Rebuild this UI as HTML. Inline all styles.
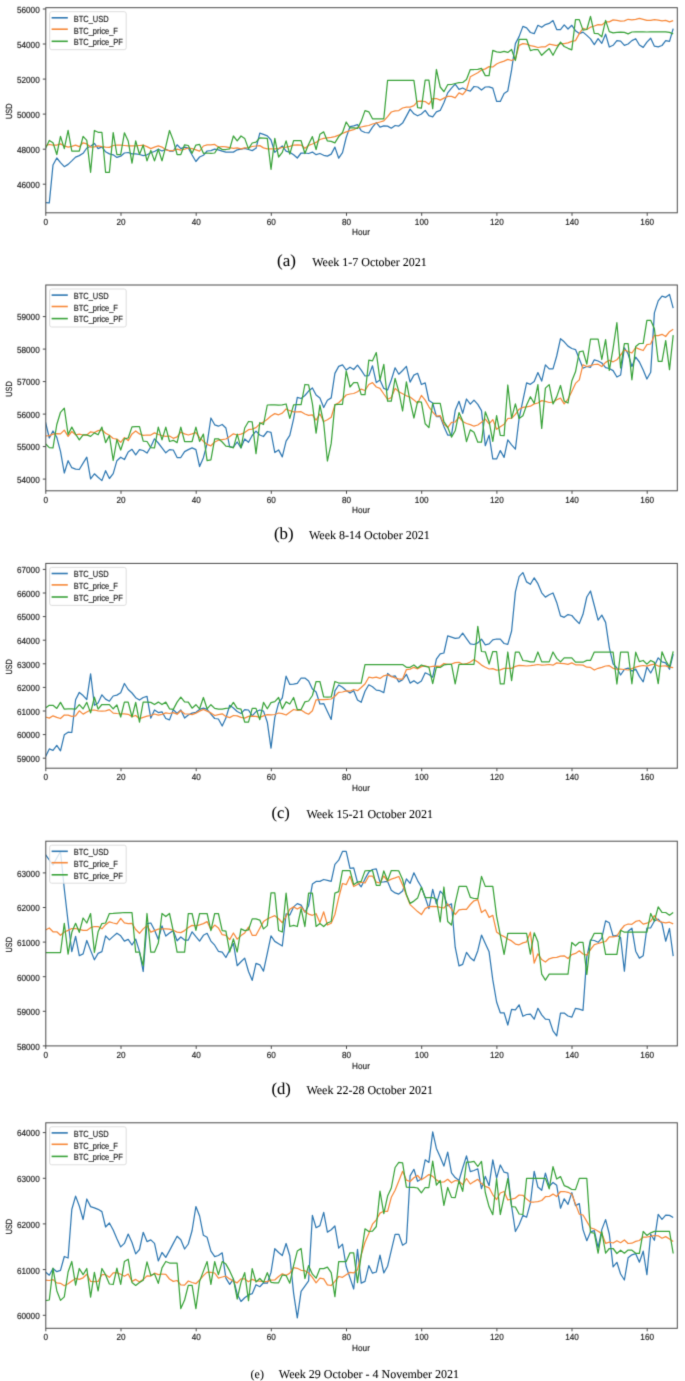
<!DOCTYPE html>
<html><head><meta charset="utf-8"><style>
html,body{margin:0;padding:0;background:#fff;}
body{width:685px;height:1381px;overflow:hidden;}
svg{display:block;}
text{font-size:100px;text-rendering:geometricPrecision;}
.tk,.lg{font-family:"Liberation Sans",sans-serif;fill:#1c1c1c;stroke:#1c1c1c;}
.cap,.capl{font-family:"Liberation Serif",serif;fill:#000;stroke:#000;}
</style></head><body>
<svg width="685" height="1381" viewBox="0 0 685 1381">
<defs><filter id="soft" x="0" y="0" width="685" height="1381" filterUnits="userSpaceOnUse" color-interpolation-filters="sRGB"><feConvolveMatrix order="3" kernelMatrix="1 6 1 6 36 6 1 6 1" edgeMode="duplicate"/></filter></defs>
<g filter="url(#soft)">
<rect width="685" height="1381" fill="#fff"/>
<clipPath id="clipa"><rect x="45.8" y="7.7" width="631.5" height="205.10000000000002"/></clipPath>
<g clip-path="url(#clipa)">
<polyline points="45.5,202.7 49.3,202.9 53,165 56.8,158 60.5,162.6 64.3,166.7 68.1,164.4 71.8,160.9 75.6,157.1 79.3,155.6 83.1,153.3 86.8,148 90.6,146.3 94.4,143.4 98.1,148.6 101.9,146.9 105.6,151.8 109.4,153.9 113.2,154.8 116.9,157.4 120.7,156.2 124.4,153 128.2,152.5 132,153.9 135.7,153.9 139.5,154.5 143.2,155.6 147,154.8 150.8,152.7 154.5,151.5 158.3,149.2 162,151 165.8,149.2 169.5,151 173.3,151 177.1,144.8 180.8,148.6 184.6,147.1 188.3,148 192.1,155 195.9,161.5 199.6,157 203.4,155.3 207.1,151 210.9,150.6 214.7,149.1 218.4,149.8 222.2,151.2 225.9,152.1 229.7,152.1 233.4,152.1 237.2,149.8 241,149.1 244.7,148.3 248.5,149.5 252.2,150.6 256,148.3 259.8,133.1 263.5,134.3 267.3,135.8 271,140 274.8,152.4 278.6,148.9 282.3,146 286.1,151.2 289.8,152.4 293.6,154.7 297.3,158 301.1,153 304.9,153 308.6,153.5 312.4,152.1 316.1,154.7 319.9,153.5 323.7,155.3 327.4,156.1 331.2,154.1 334.9,147.1 338.7,158.2 342.5,152.6 346.2,137.5 350,126.6 353.7,125.8 357.5,124.7 361.2,130.7 365,132.5 368.8,132.8 372.5,127.2 376.3,122.6 380,127.2 383.8,125.8 387.6,126.1 391.3,128.2 395.1,125.5 398.8,126.1 402.6,123.1 406.4,116.1 410.1,109.1 413.9,113.8 417.6,115.8 421.4,114 425.2,110.4 428.9,115.7 432.7,116.8 436.4,111.8 440.2,110.4 443.9,102.8 447.7,92.9 451.5,88.2 455.2,84.1 459,89.4 462.7,88 466.5,90 470.3,91.1 474,86.5 477.8,87 481.5,90 485.3,87 489.1,86.8 492.8,88.2 496.6,101.4 500.3,101.4 504.1,93.5 507.8,90.9 511.6,69.9 515.4,43.6 519.1,36.6 522.9,26.4 526.6,27.8 530.4,32.5 534.2,33.7 537.9,25.3 541.7,27.3 545.4,24.6 549.2,23.4 553,20.6 556.7,29.6 560.5,29.6 564.2,24.9 568,29 571.8,25.3 575.5,30.7 579.3,33.6 583,32.1 586.8,35.4 590.5,38.9 594.3,44.7 598.1,38.6 601.8,43.3 605.6,34.2 609.3,47 613.1,45.3 616.9,40.6 620.6,41.1 624.4,45.3 628.1,44 631.9,40.6 635.7,38.7 639.4,45 643.2,47.4 646.9,42.1 650.7,38.2 654.4,46.2 658.2,46.9 662,45.5 665.7,40.6 669.5,41.4 673.2,28.6" fill="none" stroke="#2f78b2" stroke-width="1.25" stroke-linejoin="round" stroke-linecap="butt"/>
<polyline points="45.5,145.7 49.3,144.5 53,145.1 56.8,145.1 60.5,143.9 64.3,145.9 68.1,147.1 71.8,146.3 75.6,145.1 79.3,146.6 83.1,142.8 86.8,143.9 90.6,147.1 94.4,146.9 98.1,145.9 101.9,146.6 105.6,147.1 109.4,147.4 113.2,145.5 116.9,145.1 120.7,145.1 124.4,145.5 128.2,145.9 132,145.9 135.7,145.9 139.5,145.5 143.2,145.1 147,146.6 150.8,148.6 154.5,147.1 158.3,145.9 162,147.1 165.8,149.8 169.5,150.6 173.3,150.6 177.1,149.2 180.8,150.1 184.6,149.2 188.3,148 192.1,148.6 195.9,149.8 199.6,151.2 203.4,146 207.1,144.8 210.9,144.8 214.7,144.4 218.4,147.1 222.2,146.5 225.9,146.8 229.7,147.7 233.4,148.3 237.2,147.9 241,148.9 244.7,147.9 248.5,147.7 252.2,146.5 256,146 259.8,145.6 263.5,147.9 267.3,148.9 271,148.9 274.8,148.9 278.6,148.3 282.3,147.5 286.1,147.1 289.8,146.3 293.6,145.1 297.3,144.8 301.1,145.1 304.9,148.3 308.6,145.4 312.4,144 316.1,142.4 319.9,139.5 323.7,138.4 327.4,137.8 331.2,137.4 334.9,136.6 338.7,135.1 342.5,133.5 346.2,131.9 350,130.7 353.7,129.6 357.5,127.8 361.2,127 365,126.1 368.8,125.5 372.5,124 376.3,123.1 380,122 383.8,120.8 387.6,116.7 391.3,112 395.1,110.9 398.8,110.6 402.6,108 406.4,107.1 410.1,107.1 413.9,105.6 417.6,101.3 421.4,101.1 425.2,101.6 428.9,104.3 432.7,98.5 436.4,98.5 440.2,100.1 443.9,98.1 447.7,96.4 451.5,96.4 455.2,97.8 459,92.9 462.7,94.6 466.5,90 470.3,76.8 474,74.8 477.8,72.8 481.5,70.1 485.3,68.9 489.1,66.6 492.8,67 496.6,64 500.3,62.3 504.1,61.1 507.8,59.4 511.6,60.5 515.4,58.8 519.1,45.4 522.9,43.6 526.6,44.2 530.4,45.6 534.2,46.3 537.9,47.5 541.7,46.8 545.4,46.8 549.2,44.2 553,44.8 556.7,45.6 560.5,43.6 564.2,43.6 568,42.8 571.8,41.3 575.5,40.6 579.3,33.6 583,28.4 586.8,29.5 590.5,27.2 594.3,26 598.1,24.6 601.8,24.9 605.6,21.9 609.3,21.9 613.1,19.9 616.9,20.4 620.6,21.1 624.4,20.9 628.1,19.3 631.9,19.9 635.7,19.3 639.4,18.3 643.2,19.3 646.9,20.4 650.7,20.4 654.4,19.6 658.2,20.2 662,20.9 665.7,20.4 669.5,21.9 673.2,20.6" fill="none" stroke="#f7893a" stroke-width="1.25" stroke-linejoin="round" stroke-linecap="butt"/>
<polyline points="45.5,148.6 49.3,140.4 53,142.8 56.8,154.5 60.5,136.4 64.3,148.6 68.1,130.3 71.8,151 75.6,151 79.3,151 83.1,136.4 86.8,140.4 90.6,172.3 94.4,130.5 98.1,132.3 101.9,132.3 105.6,172.3 109.4,172.3 113.2,132.6 116.9,154.5 120.7,154.5 124.4,132.8 128.2,141 132,163.2 135.7,140.8 139.5,154.5 143.2,145.1 147,160.9 150.8,150.4 154.5,160.9 158.3,149.2 162,160.9 165.8,146.3 169.5,130.5 173.3,140.4 177.1,154.5 180.8,154.5 184.6,144.8 188.3,145.5 192.1,153.3 195.9,145.1 199.6,144.4 203.4,153.3 207.1,153 210.9,153.3 214.7,153 218.4,147.1 222.2,149.5 225.9,149.5 229.7,148.9 233.4,136 237.2,140.9 241,136 244.7,138.4 248.5,148.9 252.2,143 256,142.1 259.8,137.8 263.5,138.1 267.3,138.4 271,169.3 274.8,138.4 278.6,157 282.3,152.4 286.1,140.9 289.8,154.1 293.6,140.7 297.3,140.7 301.1,140.7 304.9,153.5 308.6,144.2 312.4,136.6 316.1,149.5 319.9,134.3 323.7,131.9 327.4,140.9 331.2,141.3 334.9,142.8 338.7,136.6 342.5,132.5 346.2,122 350,127.8 353.7,127.8 357.5,128.4 361.2,121.4 365,110.6 368.8,111.8 372.5,118.8 376.3,118.8 380,118.8 383.8,118.8 387.6,80.3 391.3,80.3 395.1,80.3 398.8,80.3 402.6,80.3 406.4,80.3 410.1,80.3 413.9,80.3 417.6,107.6 421.4,108.1 425.2,80 428.9,80 432.7,108.6 436.4,69.5 440.2,87 443.9,91.7 447.7,84.7 451.5,84.5 455.2,83.5 459,82.6 462.7,82.4 466.5,79.5 470.3,69.5 474,69.5 477.8,69.3 481.5,68.4 485.3,75.6 489.1,75.6 492.8,50.3 496.6,51.8 500.3,52.4 504.1,51.4 507.8,52.4 511.6,49.5 515.4,60.5 519.1,39.3 522.9,39.3 526.6,39.3 530.4,50.6 534.2,49.5 537.9,49.5 541.7,55.3 545.4,51.8 549.2,48.6 553,55.3 556.7,48.3 560.5,42.1 564.2,46.5 568,48.3 571.8,49.8 575.5,19.6 579.3,19.6 583,30.1 586.8,29.5 590.5,16.4 594.3,33.3 598.1,33.6 601.8,36.8 605.6,20.4 609.3,31.6 613.1,32.8 616.9,32.4 620.6,32.2 624.4,32.4 628.1,33.9 631.9,32 635.7,31.8 639.4,31.8 643.2,31.8 646.9,32 650.7,31.8 654.4,31.8 658.2,31.8 662,31.8 665.7,31.8 669.5,32.4 673.2,33.9" fill="none" stroke="#3aa33a" stroke-width="1.25" stroke-linejoin="round" stroke-linecap="butt"/>
</g>
<rect x="49.7" y="11.7" width="76.5" height="38" rx="2" ry="2" fill="#fff" fill-opacity="0.8" stroke="#d9d9d9" stroke-width="0.9"/>
<line x1="51.6" y1="17.8" x2="67.8" y2="17.8" stroke="#2f78b2" stroke-width="1.6"/>
<text transform="translate(73.7 21.7) scale(0.0750 0.0885)" class="lg" text-anchor="start" style="stroke-width:2.00px">BTC_USD</text>
<line x1="51.6" y1="29.2" x2="67.8" y2="29.2" stroke="#f7893a" stroke-width="1.6"/>
<text transform="translate(73.7 33.7) scale(0.0750 0.0885)" class="lg" text-anchor="start" style="stroke-width:2.00px">BTC_price_F</text>
<line x1="51.6" y1="41.3" x2="67.8" y2="41.3" stroke="#3aa33a" stroke-width="1.6"/>
<text transform="translate(73.7 45.1) scale(0.0750 0.0885)" class="lg" text-anchor="start" style="stroke-width:2.00px">BTC_price_PF</text>
<rect x="45.8" y="7.7" width="631.5" height="205.1" fill="none" stroke="#4a4a4a" stroke-width="1.0"/>
<line x1="45.8" y1="212.8" x2="45.8" y2="215.8" stroke="#4a4a4a" stroke-width="1"/>
<text transform="translate(45.8 224.9) scale(0.0820 0.0877)" class="tk" text-anchor="middle" style="stroke-width:1.83px">0</text>
<line x1="121" y1="212.8" x2="121" y2="215.8" stroke="#4a4a4a" stroke-width="1"/>
<text transform="translate(121 224.9) scale(0.0820 0.0877)" class="tk" text-anchor="middle" style="stroke-width:1.83px">20</text>
<line x1="196.2" y1="212.8" x2="196.2" y2="215.8" stroke="#4a4a4a" stroke-width="1"/>
<text transform="translate(196.2 224.9) scale(0.0820 0.0877)" class="tk" text-anchor="middle" style="stroke-width:1.83px">40</text>
<line x1="271.3" y1="212.8" x2="271.3" y2="215.8" stroke="#4a4a4a" stroke-width="1"/>
<text transform="translate(271.3 224.9) scale(0.0820 0.0877)" class="tk" text-anchor="middle" style="stroke-width:1.83px">60</text>
<line x1="346.5" y1="212.8" x2="346.5" y2="215.8" stroke="#4a4a4a" stroke-width="1"/>
<text transform="translate(346.5 224.9) scale(0.0820 0.0877)" class="tk" text-anchor="middle" style="stroke-width:1.83px">80</text>
<line x1="421.7" y1="212.8" x2="421.7" y2="215.8" stroke="#4a4a4a" stroke-width="1"/>
<text transform="translate(421.7 224.9) scale(0.0820 0.0877)" class="tk" text-anchor="middle" style="stroke-width:1.83px">100</text>
<line x1="496.9" y1="212.8" x2="496.9" y2="215.8" stroke="#4a4a4a" stroke-width="1"/>
<text transform="translate(496.9 224.9) scale(0.0820 0.0877)" class="tk" text-anchor="middle" style="stroke-width:1.83px">120</text>
<line x1="572" y1="212.8" x2="572" y2="215.8" stroke="#4a4a4a" stroke-width="1"/>
<text transform="translate(572 224.9) scale(0.0820 0.0877)" class="tk" text-anchor="middle" style="stroke-width:1.83px">140</text>
<line x1="647.2" y1="212.8" x2="647.2" y2="215.8" stroke="#4a4a4a" stroke-width="1"/>
<text transform="translate(647.2 224.9) scale(0.0820 0.0877)" class="tk" text-anchor="middle" style="stroke-width:1.83px">160</text>
<text transform="translate(361 235.4) scale(0.0820 0.0877)" class="tk" text-anchor="middle" style="stroke-width:1.83px">Hour</text>
<line x1="42.8" y1="184.2" x2="45.8" y2="184.2" stroke="#4a4a4a" stroke-width="1"/>
<text transform="translate(39.7 188) scale(0.0820 0.0877)" class="tk" text-anchor="end" style="stroke-width:1.83px">46000</text>
<line x1="42.8" y1="149.2" x2="45.8" y2="149.2" stroke="#4a4a4a" stroke-width="1"/>
<text transform="translate(39.7 153) scale(0.0820 0.0877)" class="tk" text-anchor="end" style="stroke-width:1.83px">48000</text>
<line x1="42.8" y1="114.1" x2="45.8" y2="114.1" stroke="#4a4a4a" stroke-width="1"/>
<text transform="translate(39.7 118) scale(0.0820 0.0877)" class="tk" text-anchor="end" style="stroke-width:1.83px">50000</text>
<line x1="42.8" y1="79.1" x2="45.8" y2="79.1" stroke="#4a4a4a" stroke-width="1"/>
<text transform="translate(39.7 82.9) scale(0.0820 0.0877)" class="tk" text-anchor="end" style="stroke-width:1.83px">52000</text>
<line x1="42.8" y1="44" x2="45.8" y2="44" stroke="#4a4a4a" stroke-width="1"/>
<text transform="translate(39.7 47.9) scale(0.0820 0.0877)" class="tk" text-anchor="end" style="stroke-width:1.83px">54000</text>
<line x1="42.8" y1="9" x2="45.8" y2="9" stroke="#4a4a4a" stroke-width="1"/>
<text transform="translate(39.7 12.8) scale(0.0820 0.0877)" class="tk" text-anchor="end" style="stroke-width:1.83px">56000</text>
<g transform="translate(11.6 111.3) rotate(-90)"><text transform="translate(0 0) scale(0.0730 0.0891)" class="tk" text-anchor="middle" style="stroke-width:2.05px">USD</text></g>
<text transform="translate(277 265.6) scale(0.1700 0.1700)" class="capl" text-anchor="start" style="stroke-width:0.35px">(a)</text>
<text transform="translate(312.2 265.6) scale(0.1200 0.1200)" class="cap" text-anchor="start" style="stroke-width:0.50px">Week 1-7 October 2021</text>
<clipPath id="clipb"><rect x="45.8" y="285" width="631.5" height="205.8"/></clipPath>
<g clip-path="url(#clipb)">
<polyline points="45.5,422.2 49.3,438 53,431 56.8,437.4 60.5,451.4 64.3,473 68.1,460.7 71.8,467.7 75.6,469.1 79.3,469.5 83.1,463.1 86.8,457.2 90.6,478.8 94.4,473.8 98.1,477.3 101.9,480.6 105.6,470.7 109.4,478.5 113.2,473.6 116.9,460.7 120.7,457.2 124.4,459.6 128.2,452 132,449.3 135.7,454.9 139.5,449.6 143.2,450.5 147,453.1 150.8,446.7 154.5,438.8 158.3,443 162,447.9 165.8,452.8 169.5,449.6 173.3,450 177.1,457.5 180.8,457.5 184.6,451.6 188.3,449.6 192.1,447.9 195.9,449.6 199.6,466.5 203.4,457.7 207.1,443.7 210.9,418 214.7,424.8 218.4,426.2 222.2,424.5 225.9,428 229.7,447 233.4,447.2 237.2,442 241,447.8 244.7,439 248.5,442.3 252.2,435.5 256,431.1 259.8,435 263.5,436.5 267.3,431.5 271,432.3 274.8,452.5 278.6,449.9 282.3,456.9 286.1,441.1 289.8,435.3 293.6,418.9 297.3,397.3 301.1,398.5 304.9,395.5 308.6,391.1 312.4,388 316.1,395 319.9,397.9 323.7,407.5 327.4,400.2 331.2,397.9 334.9,373.4 338.7,366.4 342.5,364.9 346.2,370 350,367.2 353.7,369.5 357.5,365.1 361.2,370.1 365,376 368.8,375.6 372.5,365.8 376.3,382.6 380,380 383.8,388.4 387.6,390 391.3,380 395.1,367.8 398.8,374.2 402.6,370.5 406.4,366.3 410.1,382.1 413.9,375.1 417.6,373.3 421.4,384.5 425.2,382.9 428.9,400.5 432.7,403 436.4,416.5 440.2,416.5 443.9,426.4 447.7,435.1 451.5,435.1 455.2,410.6 459,401.3 462.7,413.3 466.5,399 470.3,404.2 474,400.1 477.8,404.4 481.5,410.6 485.3,445.7 489.1,435.1 492.8,458.9 496.6,458.9 500.3,450.6 504.1,457.4 507.8,439.9 511.6,444.8 515.4,449.2 519.1,418.5 522.9,400.4 526.6,382.9 530.4,384.3 534.2,381.5 537.9,372.6 541.7,381.1 545.4,364.8 549.2,368.9 553,368.9 556.7,356 560.5,338.7 564.2,341.8 568,346.1 571.8,348.5 575.5,349.6 579.3,358.9 583,368.2 586.8,366.5 590.5,367.3 594.3,359.8 598.1,361 601.8,363 605.6,367.7 609.3,368.5 613.1,370.6 616.9,377 620.6,375 624.4,347.8 628.1,354 631.9,366.5 635.7,357.2 639.4,362 643.2,370 646.9,379 650.7,372.2 654.4,312.9 658.2,300.9 662,296.1 665.7,297.3 669.5,294.4 673.2,308.1" fill="none" stroke="#2f78b2" stroke-width="1.25" stroke-linejoin="round" stroke-linecap="butt"/>
<polyline points="45.5,436 49.3,435.6 53,434.1 56.8,433.6 60.5,433.9 64.3,430.1 68.1,436.4 71.8,431.5 75.6,434.8 79.3,434.1 83.1,435 86.8,435 90.6,431.8 94.4,432.5 98.1,430.6 101.9,429.8 105.6,433.3 109.4,435.3 113.2,438.5 116.9,439.1 120.7,442.3 124.4,437.6 128.2,440.6 132,433.9 135.7,430.9 139.5,433.9 143.2,435.3 147,435 150.8,435 154.5,432.9 158.3,434.5 162,435.6 165.8,436.4 169.5,436 173.3,438.3 177.1,436.8 180.8,432.1 184.6,433.9 188.3,435 192.1,433.9 195.9,432.7 199.6,437.6 203.4,441.4 207.1,444.3 210.9,445.8 214.7,442 218.4,440.2 222.2,439.6 225.9,439 229.7,436.5 233.4,433.8 237.2,435 241,434.1 244.7,432.6 248.5,429.7 252.2,429.1 256,427.6 259.8,423.9 263.5,422.1 267.3,419.2 271,416 274.8,413.6 278.6,414.8 282.3,413.1 286.1,409 289.8,410.7 293.6,411.9 297.3,411.9 301.1,411.7 304.9,414 308.6,415.4 312.4,414.8 316.1,420.1 319.9,414 323.7,421.5 327.4,419.8 331.2,417.2 334.9,404.9 338.7,402.8 342.5,399 346.2,395 350,394 353.7,393.5 357.5,391.7 361.2,389.1 365,390.5 368.8,384.5 372.5,382.6 376.3,387 380,388.4 383.8,394 387.6,399.3 391.3,397.6 395.1,388.4 398.8,391.7 402.6,393.8 406.4,395.8 410.1,397 413.9,399.9 417.6,403.2 421.4,395.4 425.2,400.1 428.9,406.8 432.7,412.1 436.4,416.1 440.2,415.6 443.9,424.1 447.7,427.6 451.5,422.3 455.2,422 459,417 462.7,421.5 466.5,423.5 470.3,424.6 474,426.2 477.8,425 481.5,422.3 485.3,419.1 489.1,423.8 492.8,419.6 496.6,429.3 500.3,426.7 504.1,424.3 507.8,418.5 511.6,418.2 515.4,414.4 519.1,409.2 522.9,407.4 526.6,406.8 530.4,406.2 534.2,403.9 537.9,403 541.7,400.6 545.4,401.3 549.2,402.5 553,402.2 556.7,399.8 560.5,398.1 564.2,403.9 568,399.2 571.8,391.5 575.5,383.4 579.3,379.9 583,364.7 586.8,366.5 590.5,365.7 594.3,364.5 598.1,364.2 601.8,366.5 605.6,362.4 609.3,360.3 613.1,361.8 616.9,359.8 620.6,355 624.4,350 628.1,351.5 631.9,353 635.7,347.7 639.4,349.2 643.2,350.5 646.9,344.7 650.7,344 654.4,335.3 658.2,335.6 662,334.3 665.7,336.5 669.5,331.7 673.2,329.3" fill="none" stroke="#f7893a" stroke-width="1.25" stroke-linejoin="round" stroke-linecap="butt"/>
<polyline points="45.5,443.8 49.3,447.6 53,447.9 56.8,424.5 60.5,412.3 64.3,408.2 68.1,434.5 71.8,427.1 75.6,434.1 79.3,439.9 83.1,434.8 86.8,434.8 90.6,436.4 94.4,432.9 98.1,434.8 101.9,427.1 105.6,442.6 109.4,435.6 113.2,460.5 116.9,439.5 120.7,450 124.4,438.8 128.2,438 132,426.9 135.7,426.6 139.5,426.6 143.2,441.1 147,441.5 150.8,447.6 154.5,447.9 158.3,427.1 162,439.9 165.8,427.1 169.5,441.5 173.3,440.3 177.1,442.6 180.8,427.1 184.6,441.5 188.3,441.5 192.1,441.5 195.9,427.1 199.6,441.4 203.4,434.1 207.1,460.7 210.9,459.8 214.7,438.8 218.4,438.8 222.2,442 225.9,446.1 229.7,446.6 233.4,447.8 237.2,434.1 241,447.8 244.7,428 248.5,421.5 252.2,421.8 256,453.6 259.8,422.7 263.5,424.5 267.3,405 271,404.9 274.8,404.9 278.6,405.1 282.3,404.9 286.1,404 289.8,418.3 293.6,404.9 297.3,404.7 301.1,404.7 304.9,384.5 308.6,384.8 312.4,403.7 316.1,433.2 319.9,405.1 323.7,423 327.4,461 331.2,443.4 334.9,404.7 338.7,404.3 342.5,404.3 346.2,371 350,387 353.7,382.6 357.5,382.6 361.2,394.6 365,394.6 368.8,360.2 372.5,360.8 376.3,352.6 380,380 383.8,364.3 387.6,401.1 391.3,401.1 395.1,378.3 398.8,391.7 402.6,411 406.4,381.8 410.1,401.1 413.9,418 417.6,401.6 421.4,402.2 425.2,423.8 428.9,427.6 432.7,403.3 436.4,403.3 440.2,403.3 443.9,421.7 447.7,427.3 451.5,437.1 455.2,430.8 459,412.6 462.7,421.1 466.5,441.6 470.3,429.9 474,432.2 477.8,442.2 481.5,442.2 485.3,411.8 489.1,421.7 492.8,441.3 496.6,415.6 500.3,435.4 504.1,435.7 507.8,385 511.6,418.2 515.4,403.9 519.1,418.5 522.9,415.8 526.6,405.1 530.4,396.7 534.2,403.3 537.9,384.6 541.7,428.4 545.4,388.1 549.2,384.6 553,403.9 556.7,396.9 560.5,385.5 564.2,401 568,403 571.8,381.1 575.5,371.8 579.3,351.9 583,351 586.8,364.2 590.5,339 594.3,339 598.1,339 601.8,359.5 605.6,339.6 609.3,370.4 613.1,348.4 616.9,322.7 620.6,368 624.4,343.6 628.1,343.6 631.9,379.8 635.7,346.4 639.4,343.5 643.2,343.4 646.9,320.3 650.7,320.3 654.4,328.8 658.2,361.3 662,361.3 665.7,340.7 669.5,369.6 673.2,335.1" fill="none" stroke="#3aa33a" stroke-width="1.25" stroke-linejoin="round" stroke-linecap="butt"/>
</g>
<rect x="49.7" y="289" width="76.5" height="38" rx="2" ry="2" fill="#fff" fill-opacity="0.8" stroke="#d9d9d9" stroke-width="0.9"/>
<line x1="51.6" y1="295.1" x2="67.8" y2="295.1" stroke="#2f78b2" stroke-width="1.6"/>
<text transform="translate(73.7 299) scale(0.0750 0.0885)" class="lg" text-anchor="start" style="stroke-width:2.00px">BTC_USD</text>
<line x1="51.6" y1="306.5" x2="67.8" y2="306.5" stroke="#f7893a" stroke-width="1.6"/>
<text transform="translate(73.7 311) scale(0.0750 0.0885)" class="lg" text-anchor="start" style="stroke-width:2.00px">BTC_price_F</text>
<line x1="51.6" y1="318.6" x2="67.8" y2="318.6" stroke="#3aa33a" stroke-width="1.6"/>
<text transform="translate(73.7 322.4) scale(0.0750 0.0885)" class="lg" text-anchor="start" style="stroke-width:2.00px">BTC_price_PF</text>
<rect x="45.8" y="285" width="631.5" height="205.8" fill="none" stroke="#4a4a4a" stroke-width="1.0"/>
<line x1="45.8" y1="490.8" x2="45.8" y2="493.8" stroke="#4a4a4a" stroke-width="1"/>
<text transform="translate(45.8 502.9) scale(0.0820 0.0877)" class="tk" text-anchor="middle" style="stroke-width:1.83px">0</text>
<line x1="121" y1="490.8" x2="121" y2="493.8" stroke="#4a4a4a" stroke-width="1"/>
<text transform="translate(121 502.9) scale(0.0820 0.0877)" class="tk" text-anchor="middle" style="stroke-width:1.83px">20</text>
<line x1="196.2" y1="490.8" x2="196.2" y2="493.8" stroke="#4a4a4a" stroke-width="1"/>
<text transform="translate(196.2 502.9) scale(0.0820 0.0877)" class="tk" text-anchor="middle" style="stroke-width:1.83px">40</text>
<line x1="271.3" y1="490.8" x2="271.3" y2="493.8" stroke="#4a4a4a" stroke-width="1"/>
<text transform="translate(271.3 502.9) scale(0.0820 0.0877)" class="tk" text-anchor="middle" style="stroke-width:1.83px">60</text>
<line x1="346.5" y1="490.8" x2="346.5" y2="493.8" stroke="#4a4a4a" stroke-width="1"/>
<text transform="translate(346.5 502.9) scale(0.0820 0.0877)" class="tk" text-anchor="middle" style="stroke-width:1.83px">80</text>
<line x1="421.7" y1="490.8" x2="421.7" y2="493.8" stroke="#4a4a4a" stroke-width="1"/>
<text transform="translate(421.7 502.9) scale(0.0820 0.0877)" class="tk" text-anchor="middle" style="stroke-width:1.83px">100</text>
<line x1="496.9" y1="490.8" x2="496.9" y2="493.8" stroke="#4a4a4a" stroke-width="1"/>
<text transform="translate(496.9 502.9) scale(0.0820 0.0877)" class="tk" text-anchor="middle" style="stroke-width:1.83px">120</text>
<line x1="572" y1="490.8" x2="572" y2="493.8" stroke="#4a4a4a" stroke-width="1"/>
<text transform="translate(572 502.9) scale(0.0820 0.0877)" class="tk" text-anchor="middle" style="stroke-width:1.83px">140</text>
<line x1="647.2" y1="490.8" x2="647.2" y2="493.8" stroke="#4a4a4a" stroke-width="1"/>
<text transform="translate(647.2 502.9) scale(0.0820 0.0877)" class="tk" text-anchor="middle" style="stroke-width:1.83px">160</text>
<text transform="translate(361 513.4) scale(0.0820 0.0877)" class="tk" text-anchor="middle" style="stroke-width:1.83px">Hour</text>
<line x1="42.8" y1="479.1" x2="45.8" y2="479.1" stroke="#4a4a4a" stroke-width="1"/>
<text transform="translate(39.7 482.9) scale(0.0820 0.0877)" class="tk" text-anchor="end" style="stroke-width:1.83px">54000</text>
<line x1="42.8" y1="446.6" x2="45.8" y2="446.6" stroke="#4a4a4a" stroke-width="1"/>
<text transform="translate(39.7 450.4) scale(0.0820 0.0877)" class="tk" text-anchor="end" style="stroke-width:1.83px">55000</text>
<line x1="42.8" y1="414.1" x2="45.8" y2="414.1" stroke="#4a4a4a" stroke-width="1"/>
<text transform="translate(39.7 417.9) scale(0.0820 0.0877)" class="tk" text-anchor="end" style="stroke-width:1.83px">56000</text>
<line x1="42.8" y1="381.6" x2="45.8" y2="381.6" stroke="#4a4a4a" stroke-width="1"/>
<text transform="translate(39.7 385.4) scale(0.0820 0.0877)" class="tk" text-anchor="end" style="stroke-width:1.83px">57000</text>
<line x1="42.8" y1="349.1" x2="45.8" y2="349.1" stroke="#4a4a4a" stroke-width="1"/>
<text transform="translate(39.7 352.9) scale(0.0820 0.0877)" class="tk" text-anchor="end" style="stroke-width:1.83px">58000</text>
<line x1="42.8" y1="316.6" x2="45.8" y2="316.6" stroke="#4a4a4a" stroke-width="1"/>
<text transform="translate(39.7 320.4) scale(0.0820 0.0877)" class="tk" text-anchor="end" style="stroke-width:1.83px">59000</text>
<g transform="translate(11.6 389) rotate(-90)"><text transform="translate(0 0) scale(0.0730 0.0891)" class="tk" text-anchor="middle" style="stroke-width:2.05px">USD</text></g>
<text transform="translate(274 538.5) scale(0.1680 0.1680)" class="capl" text-anchor="start" style="stroke-width:0.36px">(b)</text>
<text transform="translate(309 538.5) scale(0.1200 0.1200)" class="cap" text-anchor="start" style="stroke-width:0.50px">Week 8-14 October 2021</text>
<clipPath id="clipc"><rect x="45.8" y="563.4" width="631.5" height="204.80000000000007"/></clipPath>
<g clip-path="url(#clipc)">
<polyline points="45.5,756.7 49.3,748.9 53,750.3 56.8,745.4 60.5,750.8 64.3,734.8 68.1,732.2 71.8,732.5 75.6,699.8 79.3,692.4 83.1,695.6 86.8,699.5 90.6,673.8 94.4,705.3 98.1,703 101.9,694.8 105.6,699.1 109.4,701.2 113.2,696 116.9,695.1 120.7,692.8 124.4,683.5 128.2,689.5 132,693 135.7,697.7 139.5,700 143.2,697.5 147,696.3 150.8,718.1 154.5,710 158.3,712.6 162,711.9 165.8,718.5 169.5,719.9 173.3,709.6 177.1,713.5 180.8,710 184.6,718.1 188.3,715 192.1,713.1 195.9,712.3 199.6,709.4 203.4,708.2 207.1,709.4 210.9,714.1 214.7,718.5 218.4,719 222.2,726 225.9,718.1 229.7,705.3 233.4,708 237.2,711.5 241,713.5 244.7,709.6 248.5,710 252.2,715.8 256,711.7 259.8,710 263.5,711.1 267.3,722.2 271,748.2 274.8,717.7 278.6,703.1 282.3,697.8 286.1,676.2 289.8,684.4 293.6,684.1 297.3,683.4 301.1,678 304.9,678 308.6,680.9 312.4,689 316.1,692 319.9,704 323.7,703.6 327.4,711.5 331.2,719.4 334.9,690.8 338.7,685 342.5,687.3 346.2,690.5 350,693 353.7,690.7 357.5,700 361.2,702.3 365,691.2 368.8,684.8 372.5,686.8 376.3,690.1 380,690.7 383.8,692.6 387.6,673.5 391.3,676.6 395.1,675.8 398.8,681.9 402.6,679.6 406.4,674.3 410.1,683.1 413.9,680.7 417.6,683.6 421.4,681 425.2,672.8 428.9,674.5 432.7,677.2 436.4,659.1 440.2,653.8 443.9,653 447.7,635.9 451.5,637.1 455.2,638.3 459,637.8 462.7,633.1 466.5,638.6 470.3,643.9 474,644.5 477.8,642.9 481.5,639.2 485.3,644.8 489.1,643.9 492.8,639.8 496.6,639 500.3,639.2 504.1,643.5 507.8,644.4 511.6,631 515.4,591.9 519.1,576.7 522.9,572.6 526.6,581.9 530.4,584.3 534.2,577.8 537.9,583.7 541.7,592.8 545.4,597.1 549.2,594.8 553,593 556.7,602.4 560.5,615.8 564.2,617.3 568,614.6 571.8,615.5 575.5,619.8 579.3,623.6 583,614.3 586.8,597 590.5,591 594.3,605.5 598.1,620.1 601.8,615.1 605.6,622.4 609.3,647.6 613.1,663.9 616.9,668 620.6,675 624.4,669.4 628.1,668.1 631.9,671.1 635.7,669.1 639.4,676.4 643.2,681.8 646.9,667 650.7,673 654.4,666 658.2,657.8 662,661.9 665.7,662.9 669.5,669.3 673.2,654.2" fill="none" stroke="#2f78b2" stroke-width="1.25" stroke-linejoin="round" stroke-linecap="butt"/>
<polyline points="45.5,717 49.3,718.1 53,715.8 56.8,717.3 60.5,718.5 64.3,715 68.1,715.2 71.8,716.4 75.6,715.8 79.3,710.8 83.1,714.1 86.8,712 90.6,710 94.4,710 98.1,710.8 101.9,711.1 105.6,710.8 109.4,709.6 113.2,713.1 116.9,713.5 120.7,713.8 124.4,713.8 128.2,714.3 132,716.6 135.7,715.5 139.5,718.7 143.2,717.3 147,716.2 150.8,715.5 154.5,714 158.3,715.2 162,714.3 165.8,712.9 169.5,713.5 173.3,712.6 177.1,714.3 180.8,710.8 184.6,713.8 188.3,714 192.1,714.6 195.9,713.1 199.6,711.1 203.4,709.4 207.1,711.1 210.9,712.9 214.7,715.5 218.4,714.6 222.2,713.8 225.9,716.4 229.7,717.6 233.4,715.5 237.2,715.8 241,717.3 244.7,718.1 248.5,716.4 252.2,716.2 256,716.4 259.8,717.3 263.5,715.8 267.3,714.6 271,714.8 274.8,714.5 278.6,713 282.3,713.6 286.1,715 289.8,712.2 293.6,709.5 297.3,710.3 301.1,710.1 304.9,712.6 308.6,714.2 312.4,710.7 316.1,699.8 319.9,699.6 323.7,699.6 327.4,699.3 331.2,699 334.9,696.3 338.7,692.3 342.5,692 346.2,690.8 350,691.2 353.7,689.5 357.5,690.7 361.2,687.5 365,684 368.8,677.2 372.5,677.8 376.3,677.2 380,678.4 383.8,675.8 387.6,674.9 391.3,676.3 395.1,677.8 398.8,679 402.6,679 406.4,669.6 410.1,669.1 413.9,667.3 417.6,668.8 421.4,666.6 425.2,665.8 428.9,667 432.7,666.3 436.4,666.1 440.2,666.3 443.9,663.5 447.7,664.3 451.5,664 455.2,662.6 459,662.3 462.7,664.3 466.5,663.7 470.3,662 474,659.6 477.8,662 481.5,665.1 485.3,667.2 489.1,669 492.8,668.6 496.6,670.2 500.3,669.9 504.1,668.4 507.8,668.4 511.6,668.4 515.4,666.4 519.1,665.4 522.9,665.7 526.6,666 530.4,665.7 534.2,665.2 537.9,664.5 541.7,665.2 545.4,664.9 549.2,664.5 553,665.2 556.7,662.9 560.5,663.3 564.2,663.7 568,664.3 571.8,662.9 575.5,664.8 579.3,664.8 583,665.1 586.8,667.2 590.5,667.4 594.3,670 598.1,668.3 601.8,667.4 605.6,666 609.3,665.7 613.1,668.3 616.9,669.2 620.6,669.2 624.4,669.5 628.1,670 631.9,668.6 635.7,667.2 639.4,666.2 643.2,665.5 646.9,666.1 650.7,664.8 654.4,664.1 658.2,666 662,666 665.7,665.8 669.5,667.2 673.2,667.7" fill="none" stroke="#f7893a" stroke-width="1.25" stroke-linejoin="round" stroke-linecap="butt"/>
<polyline points="45.5,708 49.3,705.3 53,705.3 56.8,708.4 60.5,702.4 64.3,709.1 68.1,708.8 71.8,708.8 75.6,709.1 79.3,704.7 83.1,708.8 86.8,702.4 90.6,712.9 94.4,697.1 98.1,709.1 101.9,704.5 105.6,704.5 109.4,704.7 113.2,708.8 116.9,704.9 120.7,717 124.4,702.1 128.2,702.1 132,717 135.7,702.4 139.5,722.2 143.2,702.1 147,702.1 150.8,702.4 154.5,704.5 158.3,702.1 162,704.5 165.8,702.1 169.5,708.8 173.3,709.4 177.1,702.1 180.8,697.1 184.6,701.8 188.3,702.1 192.1,708.2 195.9,704.7 199.6,708.8 203.4,697.5 207.1,708.8 210.9,704.7 214.7,708.4 218.4,709.1 222.2,709.1 225.9,708.4 229.7,708 233.4,702.4 237.2,708.4 241,709.1 244.7,722.2 248.5,722.2 252.2,708.4 256,708.4 259.8,719.7 263.5,702.4 267.3,708.8 271,702.6 274.8,701.7 278.6,697.5 282.3,708.9 286.1,701.9 289.8,704 293.6,697.5 297.3,709.5 301.1,709.5 304.9,701.9 308.6,701 312.4,695.5 316.1,681.5 319.9,681.5 323.7,697 327.4,697.2 331.2,697 334.9,681.5 338.7,683 342.5,683 346.2,683 350,683.1 353.7,683.1 357.5,683.1 361.2,683.1 365,664.6 368.8,664.6 372.5,664.6 376.3,664.6 380,664.6 383.8,664.6 387.6,664.6 391.3,664.6 395.1,664.6 398.8,664.6 402.6,664.6 406.4,667.3 410.1,667.3 413.9,665 417.6,667.9 421.4,665 425.2,666.3 428.9,667.2 432.7,683.6 436.4,667.2 440.2,667.5 443.9,664.9 447.7,664.3 451.5,664.3 455.2,683.8 459,664.3 462.7,664.3 466.5,664.3 470.3,664.3 474,664.3 477.8,626.4 481.5,651.5 485.3,651.8 489.1,664 492.8,651.5 496.6,651.5 500.3,683.9 504.1,683.9 507.8,652 511.6,680.6 515.4,652 519.1,652 522.9,660.5 526.6,660.8 530.4,661.9 534.2,661.9 537.9,652 541.7,661.9 545.4,661.9 549.2,661.9 553,652 556.7,658.4 560.5,661.9 564.2,657.8 568,657.8 571.8,657.8 575.5,662.2 579.3,662.2 583,662.2 586.8,660.4 590.5,660.4 594.3,652 598.1,652 601.8,652 605.6,652 609.3,652 613.1,652 616.9,684 620.6,652 624.4,652 628.1,652 631.9,683.8 635.7,652.2 639.4,661.7 643.2,660.5 646.9,664.1 650.7,660.5 654.4,662.4 658.2,683.6 662,651.8 665.7,660.5 669.5,667 673.2,651.3" fill="none" stroke="#3aa33a" stroke-width="1.25" stroke-linejoin="round" stroke-linecap="butt"/>
</g>
<rect x="49.7" y="567.4" width="76.5" height="38" rx="2" ry="2" fill="#fff" fill-opacity="0.8" stroke="#d9d9d9" stroke-width="0.9"/>
<line x1="51.6" y1="573.5" x2="67.8" y2="573.5" stroke="#2f78b2" stroke-width="1.6"/>
<text transform="translate(73.7 577.4) scale(0.0750 0.0885)" class="lg" text-anchor="start" style="stroke-width:2.00px">BTC_USD</text>
<line x1="51.6" y1="584.9" x2="67.8" y2="584.9" stroke="#f7893a" stroke-width="1.6"/>
<text transform="translate(73.7 589.4) scale(0.0750 0.0885)" class="lg" text-anchor="start" style="stroke-width:2.00px">BTC_price_F</text>
<line x1="51.6" y1="597" x2="67.8" y2="597" stroke="#3aa33a" stroke-width="1.6"/>
<text transform="translate(73.7 600.8) scale(0.0750 0.0885)" class="lg" text-anchor="start" style="stroke-width:2.00px">BTC_price_PF</text>
<rect x="45.8" y="563.4" width="631.5" height="204.8" fill="none" stroke="#4a4a4a" stroke-width="1.0"/>
<line x1="45.8" y1="768.2" x2="45.8" y2="771.2" stroke="#4a4a4a" stroke-width="1"/>
<text transform="translate(45.8 780.3) scale(0.0820 0.0877)" class="tk" text-anchor="middle" style="stroke-width:1.83px">0</text>
<line x1="121" y1="768.2" x2="121" y2="771.2" stroke="#4a4a4a" stroke-width="1"/>
<text transform="translate(121 780.3) scale(0.0820 0.0877)" class="tk" text-anchor="middle" style="stroke-width:1.83px">20</text>
<line x1="196.2" y1="768.2" x2="196.2" y2="771.2" stroke="#4a4a4a" stroke-width="1"/>
<text transform="translate(196.2 780.3) scale(0.0820 0.0877)" class="tk" text-anchor="middle" style="stroke-width:1.83px">40</text>
<line x1="271.3" y1="768.2" x2="271.3" y2="771.2" stroke="#4a4a4a" stroke-width="1"/>
<text transform="translate(271.3 780.3) scale(0.0820 0.0877)" class="tk" text-anchor="middle" style="stroke-width:1.83px">60</text>
<line x1="346.5" y1="768.2" x2="346.5" y2="771.2" stroke="#4a4a4a" stroke-width="1"/>
<text transform="translate(346.5 780.3) scale(0.0820 0.0877)" class="tk" text-anchor="middle" style="stroke-width:1.83px">80</text>
<line x1="421.7" y1="768.2" x2="421.7" y2="771.2" stroke="#4a4a4a" stroke-width="1"/>
<text transform="translate(421.7 780.3) scale(0.0820 0.0877)" class="tk" text-anchor="middle" style="stroke-width:1.83px">100</text>
<line x1="496.9" y1="768.2" x2="496.9" y2="771.2" stroke="#4a4a4a" stroke-width="1"/>
<text transform="translate(496.9 780.3) scale(0.0820 0.0877)" class="tk" text-anchor="middle" style="stroke-width:1.83px">120</text>
<line x1="572" y1="768.2" x2="572" y2="771.2" stroke="#4a4a4a" stroke-width="1"/>
<text transform="translate(572 780.3) scale(0.0820 0.0877)" class="tk" text-anchor="middle" style="stroke-width:1.83px">140</text>
<line x1="647.2" y1="768.2" x2="647.2" y2="771.2" stroke="#4a4a4a" stroke-width="1"/>
<text transform="translate(647.2 780.3) scale(0.0820 0.0877)" class="tk" text-anchor="middle" style="stroke-width:1.83px">160</text>
<text transform="translate(361 790.8) scale(0.0820 0.0877)" class="tk" text-anchor="middle" style="stroke-width:1.83px">Hour</text>
<line x1="42.8" y1="758.2" x2="45.8" y2="758.2" stroke="#4a4a4a" stroke-width="1"/>
<text transform="translate(39.7 762) scale(0.0820 0.0877)" class="tk" text-anchor="end" style="stroke-width:1.83px">59000</text>
<line x1="42.8" y1="734.6" x2="45.8" y2="734.6" stroke="#4a4a4a" stroke-width="1"/>
<text transform="translate(39.7 738.4) scale(0.0820 0.0877)" class="tk" text-anchor="end" style="stroke-width:1.83px">60000</text>
<line x1="42.8" y1="711" x2="45.8" y2="711" stroke="#4a4a4a" stroke-width="1"/>
<text transform="translate(39.7 714.8) scale(0.0820 0.0877)" class="tk" text-anchor="end" style="stroke-width:1.83px">61000</text>
<line x1="42.8" y1="687.4" x2="45.8" y2="687.4" stroke="#4a4a4a" stroke-width="1"/>
<text transform="translate(39.7 691.2) scale(0.0820 0.0877)" class="tk" text-anchor="end" style="stroke-width:1.83px">62000</text>
<line x1="42.8" y1="663.8" x2="45.8" y2="663.8" stroke="#4a4a4a" stroke-width="1"/>
<text transform="translate(39.7 667.6) scale(0.0820 0.0877)" class="tk" text-anchor="end" style="stroke-width:1.83px">63000</text>
<line x1="42.8" y1="640.2" x2="45.8" y2="640.2" stroke="#4a4a4a" stroke-width="1"/>
<text transform="translate(39.7 644) scale(0.0820 0.0877)" class="tk" text-anchor="end" style="stroke-width:1.83px">64000</text>
<line x1="42.8" y1="616.6" x2="45.8" y2="616.6" stroke="#4a4a4a" stroke-width="1"/>
<text transform="translate(39.7 620.4) scale(0.0820 0.0877)" class="tk" text-anchor="end" style="stroke-width:1.83px">65000</text>
<line x1="42.8" y1="593" x2="45.8" y2="593" stroke="#4a4a4a" stroke-width="1"/>
<text transform="translate(39.7 596.8) scale(0.0820 0.0877)" class="tk" text-anchor="end" style="stroke-width:1.83px">66000</text>
<line x1="42.8" y1="569.4" x2="45.8" y2="569.4" stroke="#4a4a4a" stroke-width="1"/>
<text transform="translate(39.7 573.2) scale(0.0820 0.0877)" class="tk" text-anchor="end" style="stroke-width:1.83px">67000</text>
<g transform="translate(11.6 666.9) rotate(-90)"><text transform="translate(0 0) scale(0.0730 0.0891)" class="tk" text-anchor="middle" style="stroke-width:2.05px">USD</text></g>
<text transform="translate(271.4 817.5) scale(0.1650 0.1650)" class="capl" text-anchor="start" style="stroke-width:0.36px">(c)</text>
<text transform="translate(306.4 817.5) scale(0.1200 0.1200)" class="cap" text-anchor="start" style="stroke-width:0.50px">Week 15-21 October 2021</text>
<clipPath id="clipd"><rect x="45.8" y="841.2" width="631.5" height="204.70000000000005"/></clipPath>
<g clip-path="url(#clipd)">
<polyline points="45.5,854.5 49.3,860 53,865 56.8,858 60.5,851.5 64.3,889 68.1,922 71.8,951.6 75.6,936.4 79.3,955.7 83.1,953.9 86.8,940.5 90.6,950.4 94.4,959.8 98.1,953.4 101.9,951.6 105.6,935.8 109.4,939.9 113.2,936.4 116.9,933.2 120.7,935.8 124.4,941.1 128.2,939.4 132,945 135.7,939.1 139.5,951.6 143.2,971.5 147,923.6 150.8,923 154.5,930 158.3,939.4 162,925.9 165.8,936.1 169.5,933 173.3,930.6 177.1,940.8 180.8,937 184.6,940 188.3,940 192.1,931.8 195.9,936.7 199.6,941.1 203.4,935.3 207.1,933.3 210.9,941.1 214.7,945.2 218.4,951.3 222.2,952.2 225.9,957.5 229.7,950.1 233.4,943.5 237.2,965.7 241,961.8 244.7,958.1 248.5,971.5 252.2,980.3 256,963.3 259.8,964.8 263.5,971.1 267.3,953.4 271,935.9 274.8,941.4 278.6,943.7 282.3,946 286.1,913.9 289.8,915.1 293.6,906.9 297.3,903.6 301.1,905.1 304.9,912.2 308.6,905.7 312.4,884.1 316.1,881.4 319.9,881.4 323.7,879.5 327.4,880.3 331.2,881.4 334.9,864.3 338.7,860.2 342.5,851.4 346.2,851.4 350,868.4 353.7,867.8 357.5,882.4 361.2,886.8 365,878.9 368.8,872.1 372.5,869.5 376.3,868.9 380,882.1 383.8,881.8 387.6,881.4 391.3,890.3 395.1,892.9 398.8,894.1 402.6,891.1 406.4,878.9 410.1,883.3 413.9,872.8 417.6,880.6 421.4,887 425.2,897.5 428.9,908.6 432.7,889.3 436.4,903.9 440.2,891.1 443.9,895.2 447.7,905.9 451.5,903.9 455.2,947.2 459,965.8 462.7,964.3 466.5,952.4 470.3,957.7 474,960.8 477.8,950.7 481.5,935.1 485.3,943.6 489.1,951.8 492.8,979.9 496.6,1002 500.3,1012.8 504.1,1012.8 507.8,1025 511.6,1009.3 515.4,1009.9 519.1,1004.8 522.9,1016.3 526.6,1014.5 530.4,1014.2 534.2,1019.2 537.9,1008.3 541.7,1014.9 545.4,1019.2 549.2,1019.5 553,1030.9 556.7,1035.9 560.5,1013 564.2,1013 568,1016 571.8,1017.2 575.5,1008.3 579.3,1009.2 583,1010.4 586.8,956.9 590.5,940 594.3,940.5 598.1,942.3 601.8,938.2 605.6,920.9 609.3,922.8 613.1,936.1 616.9,935.3 620.6,937.5 624.4,971.1 628.1,931.3 631.9,928.2 635.7,951.2 639.4,958.1 643.2,955.7 646.9,928 650.7,927.8 654.4,921 658.2,919.1 662,923.4 665.7,941.2 669.5,928.5 673.2,956.2" fill="none" stroke="#2f78b2" stroke-width="1.25" stroke-linejoin="round" stroke-linecap="butt"/>
<polyline points="45.5,930 49.3,928 53,931.8 56.8,931.8 60.5,935.3 64.3,932 68.1,930.4 71.8,928.5 75.6,928.5 79.3,929.4 83.1,930.4 86.8,930.4 90.6,927.7 94.4,926.5 98.1,926.5 101.9,928.8 105.6,924.7 109.4,921.8 113.2,923 116.9,923.8 120.7,918.4 124.4,922.8 128.2,923.6 132,923.3 135.7,929.5 139.5,933.3 143.2,928.9 147,925.6 150.8,932.1 154.5,930.6 158.3,929.1 162,928.9 165.8,928.9 169.5,929.1 173.3,930.3 177.1,932.1 180.8,932.6 184.6,930.6 188.3,927.5 192.1,925.4 195.9,925.8 199.6,924.8 203.4,923.6 207.1,921.6 210.9,929.5 214.7,925.1 218.4,927.9 222.2,934.7 225.9,935.3 229.7,939.6 233.4,933 237.2,939.1 241,935.6 244.7,933 248.5,927.1 252.2,935.3 256,935.3 259.8,928.3 263.5,921.6 267.3,918.9 271,917.3 274.8,915.7 278.6,918.8 282.3,922.7 286.1,916.5 289.8,909.2 293.6,906.9 297.3,909 301.1,906.9 304.9,911.6 308.6,914.1 312.4,915.3 316.1,913.7 319.9,922.7 323.7,911.8 327.4,925 331.2,923.2 334.9,914.5 338.7,897.6 342.5,883.5 346.2,884.7 350,876.3 353.7,886.5 357.5,884.5 361.2,882.1 365,883 368.8,876 372.5,876 376.3,882.1 380,883 383.8,876 387.6,881 391.3,879.1 395.1,877.9 398.8,876.5 402.6,884.9 406.4,895.2 410.1,904.6 413.9,908.1 417.6,911.6 421.4,914.6 425.2,908.6 428.9,906.6 432.7,906.3 436.4,906.6 440.2,907.4 443.9,908 447.7,903.9 451.5,909.2 455.2,914.5 459,909.8 462.7,909.4 466.5,909.4 470.3,904.5 474,900.8 477.8,899.6 481.5,912.5 485.3,909.8 489.1,917.4 492.8,915.3 496.6,932 500.3,934.8 504.1,936.6 507.8,939 511.6,940.9 515.4,944.1 519.1,944.8 522.9,942.9 526.6,941.8 530.4,932.2 534.2,963.1 537.9,953.8 541.7,959.6 545.4,962 549.2,958.8 553,957.6 556.7,957.3 560.5,956.1 564.2,955.8 568,958.5 571.8,954.6 575.5,953.4 579.3,950.8 583,954 586.8,955.1 590.5,949.7 594.3,944.6 598.1,943.5 601.8,942.3 605.6,941.5 609.3,936.8 613.1,936.8 616.9,936.1 620.6,930 624.4,925.5 628.1,924 631.9,924.3 635.7,921.4 639.4,920.5 643.2,924.1 646.9,923.2 650.7,921.2 654.4,915.7 658.2,921 662,922.2 665.7,922.9 669.5,922.2 673.2,923.9" fill="none" stroke="#f7893a" stroke-width="1.25" stroke-linejoin="round" stroke-linecap="butt"/>
<polyline points="45.5,952.5 49.3,952.5 53,952.5 56.8,952.5 60.5,952.5 64.3,923.3 68.1,954.2 71.8,932.3 75.6,923.3 79.3,932.3 83.1,918 86.8,923 90.6,913.6 94.4,952.5 98.1,931.8 101.9,923.6 105.6,923 109.4,913.6 113.2,913.4 116.9,913.1 120.7,912.8 124.4,912.5 128.2,912.5 132,912.5 135.7,952.2 139.5,952.2 143.2,965.7 147,913.5 150.8,952.2 154.5,952.2 158.3,943.1 162,913.5 165.8,916.6 169.5,913.5 173.3,931.2 177.1,952.2 180.8,952.2 184.6,952.2 188.3,913.5 192.1,913.5 195.9,930.3 199.6,913.5 203.4,913.5 207.1,913.5 210.9,930.6 214.7,913.5 218.4,913.5 222.2,930.6 225.9,931.2 229.7,952 233.4,938.8 237.2,952 241,928.9 244.7,930.6 248.5,929.8 252.2,918.9 256,918.9 259.8,920.1 263.5,928.9 267.3,925.6 271,892.9 274.8,892.9 278.6,930.5 282.3,932 286.1,893.1 289.8,926.5 293.6,925.4 297.3,926.5 301.1,908.6 304.9,926.5 308.6,893.1 312.4,893.1 316.1,926.5 319.9,923.5 323.7,926.5 327.4,923 331.2,921.5 334.9,893.1 338.7,891.7 342.5,870.5 346.2,870.5 350,870.5 353.7,884.7 357.5,882.1 361.2,881.4 365,870.9 368.8,870.5 372.5,870.5 376.3,885.3 380,885.3 383.8,870.9 387.6,880.6 391.3,870.5 395.1,870.5 398.8,870.9 402.6,879.5 406.4,894.6 410.1,903.4 413.9,901.1 417.6,898.1 421.4,887.3 425.2,897.5 428.9,897.5 432.7,897.5 436.4,899.3 440.2,922 443.9,887 447.7,921.5 451.5,925 455.2,903.1 459,886.4 462.7,886.4 466.5,886.4 470.3,897.3 474,898.5 477.8,898.7 481.5,876.4 485.3,886.4 489.1,886.4 492.8,886.4 496.6,916.2 500.3,935.1 504.1,954.4 507.8,933.4 511.6,933.4 515.4,933.4 519.1,933.4 522.9,933.4 526.6,933.4 530.4,954.1 534.2,932.8 537.9,941.8 541.7,974.2 545.4,980.1 549.2,974.2 553,974.2 556.7,974.2 560.5,974.2 564.2,974.2 568,974.2 571.8,942.5 575.5,945.8 579.3,942.3 583,942.3 586.8,974.4 590.5,941.1 594.3,933.3 598.1,933.3 601.8,933.3 605.6,954.3 609.3,954.3 613.1,954.3 616.9,954.3 620.6,930.3 624.4,932.2 628.1,932.2 631.9,932.2 635.7,932.2 639.4,932.2 643.2,932.2 646.9,932.2 650.7,913.5 654.4,921.2 658.2,906.8 662,912.3 665.7,912.5 669.5,915.2 673.2,912.5" fill="none" stroke="#3aa33a" stroke-width="1.25" stroke-linejoin="round" stroke-linecap="butt"/>
</g>
<rect x="49.7" y="845.2" width="76.5" height="38" rx="2" ry="2" fill="#fff" fill-opacity="0.8" stroke="#d9d9d9" stroke-width="0.9"/>
<line x1="51.6" y1="851.3" x2="67.8" y2="851.3" stroke="#2f78b2" stroke-width="1.6"/>
<text transform="translate(73.7 855.2) scale(0.0750 0.0885)" class="lg" text-anchor="start" style="stroke-width:2.00px">BTC_USD</text>
<line x1="51.6" y1="862.7" x2="67.8" y2="862.7" stroke="#f7893a" stroke-width="1.6"/>
<text transform="translate(73.7 867.2) scale(0.0750 0.0885)" class="lg" text-anchor="start" style="stroke-width:2.00px">BTC_price_F</text>
<line x1="51.6" y1="874.8" x2="67.8" y2="874.8" stroke="#3aa33a" stroke-width="1.6"/>
<text transform="translate(73.7 878.6) scale(0.0750 0.0885)" class="lg" text-anchor="start" style="stroke-width:2.00px">BTC_price_PF</text>
<rect x="45.8" y="841.2" width="631.5" height="204.7" fill="none" stroke="#4a4a4a" stroke-width="1.0"/>
<line x1="45.8" y1="1045.9" x2="45.8" y2="1048.9" stroke="#4a4a4a" stroke-width="1"/>
<text transform="translate(45.8 1058) scale(0.0820 0.0877)" class="tk" text-anchor="middle" style="stroke-width:1.83px">0</text>
<line x1="121" y1="1045.9" x2="121" y2="1048.9" stroke="#4a4a4a" stroke-width="1"/>
<text transform="translate(121 1058) scale(0.0820 0.0877)" class="tk" text-anchor="middle" style="stroke-width:1.83px">20</text>
<line x1="196.2" y1="1045.9" x2="196.2" y2="1048.9" stroke="#4a4a4a" stroke-width="1"/>
<text transform="translate(196.2 1058) scale(0.0820 0.0877)" class="tk" text-anchor="middle" style="stroke-width:1.83px">40</text>
<line x1="271.3" y1="1045.9" x2="271.3" y2="1048.9" stroke="#4a4a4a" stroke-width="1"/>
<text transform="translate(271.3 1058) scale(0.0820 0.0877)" class="tk" text-anchor="middle" style="stroke-width:1.83px">60</text>
<line x1="346.5" y1="1045.9" x2="346.5" y2="1048.9" stroke="#4a4a4a" stroke-width="1"/>
<text transform="translate(346.5 1058) scale(0.0820 0.0877)" class="tk" text-anchor="middle" style="stroke-width:1.83px">80</text>
<line x1="421.7" y1="1045.9" x2="421.7" y2="1048.9" stroke="#4a4a4a" stroke-width="1"/>
<text transform="translate(421.7 1058) scale(0.0820 0.0877)" class="tk" text-anchor="middle" style="stroke-width:1.83px">100</text>
<line x1="496.9" y1="1045.9" x2="496.9" y2="1048.9" stroke="#4a4a4a" stroke-width="1"/>
<text transform="translate(496.9 1058) scale(0.0820 0.0877)" class="tk" text-anchor="middle" style="stroke-width:1.83px">120</text>
<line x1="572" y1="1045.9" x2="572" y2="1048.9" stroke="#4a4a4a" stroke-width="1"/>
<text transform="translate(572 1058) scale(0.0820 0.0877)" class="tk" text-anchor="middle" style="stroke-width:1.83px">140</text>
<line x1="647.2" y1="1045.9" x2="647.2" y2="1048.9" stroke="#4a4a4a" stroke-width="1"/>
<text transform="translate(647.2 1058) scale(0.0820 0.0877)" class="tk" text-anchor="middle" style="stroke-width:1.83px">160</text>
<text transform="translate(361 1068.5) scale(0.0820 0.0877)" class="tk" text-anchor="middle" style="stroke-width:1.83px">Hour</text>
<line x1="42.8" y1="1045.9" x2="45.8" y2="1045.9" stroke="#4a4a4a" stroke-width="1"/>
<text transform="translate(39.7 1049.7) scale(0.0820 0.0877)" class="tk" text-anchor="end" style="stroke-width:1.83px">58000</text>
<line x1="42.8" y1="1011.3" x2="45.8" y2="1011.3" stroke="#4a4a4a" stroke-width="1"/>
<text transform="translate(39.7 1015.1) scale(0.0820 0.0877)" class="tk" text-anchor="end" style="stroke-width:1.83px">59000</text>
<line x1="42.8" y1="976.7" x2="45.8" y2="976.7" stroke="#4a4a4a" stroke-width="1"/>
<text transform="translate(39.7 980.5) scale(0.0820 0.0877)" class="tk" text-anchor="end" style="stroke-width:1.83px">60000</text>
<line x1="42.8" y1="942.1" x2="45.8" y2="942.1" stroke="#4a4a4a" stroke-width="1"/>
<text transform="translate(39.7 945.9) scale(0.0820 0.0877)" class="tk" text-anchor="end" style="stroke-width:1.83px">61000</text>
<line x1="42.8" y1="907.5" x2="45.8" y2="907.5" stroke="#4a4a4a" stroke-width="1"/>
<text transform="translate(39.7 911.3) scale(0.0820 0.0877)" class="tk" text-anchor="end" style="stroke-width:1.83px">62000</text>
<line x1="42.8" y1="872.9" x2="45.8" y2="872.9" stroke="#4a4a4a" stroke-width="1"/>
<text transform="translate(39.7 876.7) scale(0.0820 0.0877)" class="tk" text-anchor="end" style="stroke-width:1.83px">63000</text>
<g transform="translate(11.6 944.7) rotate(-90)"><text transform="translate(0 0) scale(0.0730 0.0891)" class="tk" text-anchor="middle" style="stroke-width:2.05px">USD</text></g>
<text transform="translate(271.4 1093.5) scale(0.1660 0.1660)" class="capl" text-anchor="start" style="stroke-width:0.36px">(d)</text>
<text transform="translate(306.4 1093.5) scale(0.1200 0.1200)" class="cap" text-anchor="start" style="stroke-width:0.50px">Week 22-28 October 2021</text>
<clipPath id="clipe"><rect x="45.8" y="1122.8" width="631.5" height="205.5"/></clipPath>
<g clip-path="url(#clipe)">
<polyline points="45.5,1272 49.3,1275.2 53,1268.5 56.8,1271.7 60.5,1270.3 64.3,1256.5 68.1,1258 71.8,1209.5 75.6,1196.1 79.3,1206 83.1,1219.5 86.8,1199 90.6,1206.6 94.4,1207.8 98.1,1209.3 101.9,1211.6 105.6,1227 109.4,1223 113.2,1230 116.9,1238.7 120.7,1246.9 124.4,1243.4 128.2,1234.1 132,1242.5 135.7,1253.9 139.5,1249.5 143.2,1232.3 147,1241.6 150.8,1239.9 154.5,1243.4 158.3,1260.9 162,1252.5 165.8,1257.4 169.5,1250.6 173.3,1243.4 177.1,1236.2 180.8,1239.7 184.6,1249 188.3,1244 192.1,1230.5 195.9,1206.6 199.6,1216 203.4,1235.3 207.1,1237.3 210.9,1251.1 214.7,1256.7 218.4,1255.5 222.2,1252.8 225.9,1278.2 229.7,1284.3 233.4,1279.1 237.2,1294 241,1301.5 244.7,1297.8 248.5,1294.9 252.2,1293.7 256,1284.7 259.8,1286.7 263.5,1282.8 267.3,1283.2 271,1272.4 274.8,1248.7 278.6,1252.5 282.3,1255.5 286.1,1243.5 289.8,1255.7 293.6,1293.1 297.3,1317.9 301.1,1291.3 304.9,1286.1 308.6,1280.8 312.4,1215.4 316.1,1227.7 319.9,1225.6 323.7,1212.3 327.4,1232.1 331.2,1229.8 334.9,1226 338.7,1248.1 342.5,1244.1 346.2,1266.5 350,1277.9 353.7,1289 357.5,1249.3 361.2,1283.1 365,1281.4 368.8,1265.6 372.5,1273.2 376.3,1272 380,1255.1 383.8,1272.9 387.6,1266.2 391.3,1250.4 395.1,1234.3 398.8,1234.3 402.6,1245.2 406.4,1242.8 410.1,1175.9 413.9,1169.3 417.6,1181.3 421.4,1179 425.2,1159.8 428.9,1162.4 432.7,1131.8 436.4,1148.4 440.2,1157.1 443.9,1166.1 447.7,1152.1 451.5,1172.9 455.2,1177.6 459,1180.5 462.7,1168 466.5,1155.9 470.3,1171.7 474,1170.5 477.8,1168.8 481.5,1188.6 485.3,1176.4 489.1,1185.7 492.8,1159.8 496.6,1178.1 500.3,1165 504.1,1172.2 507.8,1173.1 511.6,1206.1 515.4,1231.5 519.1,1224.7 522.9,1215.4 526.6,1217.2 530.4,1203.1 534.2,1171.3 537.9,1187.1 541.7,1190.3 545.4,1173.1 549.2,1186.2 553,1182.5 556.7,1185.3 560.5,1208.2 564.2,1198.8 568,1204.3 571.8,1192.6 575.5,1205.6 579.3,1203.6 583,1229.6 586.8,1240.7 590.5,1231.9 594.3,1230.7 598.1,1247.7 601.8,1229.6 605.6,1219.6 609.3,1234 613.1,1266.9 616.9,1262.3 620.6,1274 624.4,1280 628.1,1257.8 631.9,1254.8 635.7,1253.7 639.4,1262.2 643.2,1251.2 646.9,1274.6 650.7,1234.2 654.4,1240.3 658.2,1214.3 662,1219.3 665.7,1215.2 669.5,1215.4 673.2,1217.5" fill="none" stroke="#2f78b2" stroke-width="1.25" stroke-linejoin="round" stroke-linecap="butt"/>
<polyline points="45.5,1280.2 49.3,1280.5 53,1279.6 56.8,1282.9 60.5,1283.3 64.3,1285.7 68.1,1283.7 71.8,1281 75.6,1278.4 79.3,1279.4 83.1,1277.8 86.8,1274.3 90.6,1281.4 94.4,1281.7 98.1,1281.4 101.9,1274.7 105.6,1274.7 109.4,1277.3 113.2,1272.8 116.9,1272.6 120.7,1274.3 124.4,1276.3 128.2,1274 132,1281.4 135.7,1279.4 139.5,1281.9 143.2,1279.6 147,1275.9 150.8,1276.1 154.5,1273.2 158.3,1274.7 162,1274 165.8,1274.3 169.5,1279 173.3,1281.4 177.1,1280.5 180.8,1284.9 184.6,1285.2 188.3,1281 192.1,1282.5 195.9,1283.7 199.6,1280 203.4,1275.6 207.1,1272.1 210.9,1272.3 214.7,1273 218.4,1278.2 222.2,1277 225.9,1276.2 229.7,1278.9 233.4,1281.2 237.2,1282.8 241,1278.9 244.7,1278.9 248.5,1281.7 252.2,1279.3 256,1280.8 259.8,1281.2 263.5,1281.7 267.3,1281.7 271,1280.2 274.8,1280 278.6,1276.5 282.3,1273.8 286.1,1275.4 289.8,1273.2 293.6,1267.6 297.3,1268.3 301.1,1270.3 304.9,1270.7 308.6,1273 312.4,1277.3 316.1,1282.8 319.9,1278.2 323.7,1278.9 327.4,1284.9 331.2,1285.5 334.9,1281.4 338.7,1276.5 342.5,1277.3 346.2,1274.8 350,1272.4 353.7,1272.9 357.5,1269.7 361.2,1255.1 365,1242.3 368.8,1233.5 372.5,1224.2 376.3,1219.8 380,1213.1 383.8,1211.3 387.6,1211.3 391.3,1197.3 395.1,1190.3 398.8,1181 402.6,1171.3 406.4,1180.1 410.1,1181.5 413.9,1177.8 417.6,1175.5 421.4,1179.8 425.2,1177.3 428.9,1174.6 432.7,1176.4 436.4,1179.9 440.2,1182.2 443.9,1182 447.7,1179.3 451.5,1182.8 455.2,1180.5 459,1181.1 462.7,1184.6 466.5,1178.5 470.3,1184 474,1181.6 477.8,1179.3 481.5,1183.6 485.3,1186.3 489.1,1187.8 492.8,1194.8 496.6,1199.5 500.3,1193 504.1,1191.5 507.8,1200 511.6,1199.1 515.4,1198.1 519.1,1195 522.9,1195.3 526.6,1199.1 530.4,1202 534.2,1202 537.9,1201.6 541.7,1200.5 545.4,1196.7 549.2,1196.5 553,1194.1 556.7,1196.5 560.5,1191.5 564.2,1191.5 568,1192.3 571.8,1194.2 575.5,1203.9 579.3,1214.1 583,1215 586.8,1221.4 590.5,1227.8 594.3,1229 598.1,1231.3 601.8,1233.6 605.6,1243.3 609.3,1242.2 613.1,1243 616.9,1240.7 620.6,1242.7 624.4,1240 628.1,1243.5 631.9,1243.2 635.7,1241.4 639.4,1240.5 643.2,1237 646.9,1237 650.7,1236.4 654.4,1235.5 658.2,1235.8 662,1238.3 665.7,1236.6 669.5,1239 673.2,1241.6" fill="none" stroke="#f7893a" stroke-width="1.25" stroke-linejoin="round" stroke-linecap="butt"/>
<polyline points="45.5,1300.6 49.3,1300 53,1268.2 56.8,1290.7 60.5,1300.4 64.3,1296.9 68.1,1272 71.8,1261.5 75.6,1285.2 79.3,1268.5 83.1,1274.7 86.8,1268.5 90.6,1297.1 94.4,1272.4 98.1,1291 101.9,1268.5 105.6,1274.9 109.4,1284 113.2,1284.5 116.9,1268.2 120.7,1284.3 124.4,1261.5 128.2,1259.2 132,1282.5 135.7,1285.4 139.5,1282.5 143.2,1280.2 147,1261.8 150.8,1275.5 154.5,1273.8 158.3,1283.3 162,1267.9 165.8,1261.5 169.5,1263 173.3,1263 177.1,1263.2 180.8,1308.6 184.6,1300 188.3,1285.4 192.1,1285.4 195.9,1308.6 199.6,1281.4 203.4,1271.1 207.1,1261.6 210.9,1284.3 214.7,1261.6 218.4,1274.7 222.2,1261.6 225.9,1264.1 229.7,1270.9 233.4,1279.1 237.2,1299 241,1282.4 244.7,1272.7 248.5,1300.7 252.2,1268.6 256,1282 259.8,1278.5 263.5,1282.4 267.3,1272.7 271,1282.3 274.8,1282.8 278.6,1282.8 282.3,1275 286.1,1275.6 289.8,1283.2 293.6,1265.7 297.3,1251.1 301.1,1248.5 304.9,1278.5 308.6,1265.7 312.4,1274.2 316.1,1278.2 319.9,1268.6 323.7,1268.6 327.4,1267.2 331.2,1272.7 334.9,1296.6 338.7,1261.6 342.5,1261.6 346.2,1261.6 350,1252.8 353.7,1252.8 357.5,1282.6 361.2,1255.1 365,1228.8 368.8,1231.5 372.5,1231.2 376.3,1226.5 380,1191.1 383.8,1213.6 387.6,1196.1 391.3,1188 395.1,1167.5 398.8,1162.3 402.6,1162.8 406.4,1187.1 410.1,1187.4 413.9,1187.4 417.6,1188 421.4,1192.8 425.2,1187.5 428.9,1187.5 432.7,1161.2 436.4,1185.1 440.2,1180.5 443.9,1205.4 447.7,1187.5 451.5,1197.4 455.2,1197.6 459,1180.8 462.7,1191.3 466.5,1162.1 470.3,1162.1 474,1161.4 477.8,1166.5 481.5,1161.4 485.3,1192.5 489.1,1206.8 492.8,1214.7 496.6,1178.7 500.3,1214.5 504.1,1196.7 507.8,1178.6 511.6,1206.6 515.4,1207 519.1,1214 522.9,1214.5 526.6,1178.3 530.4,1178.3 534.2,1178.3 537.9,1178.3 541.7,1178.3 545.4,1178.3 549.2,1188.8 553,1166.6 556.7,1179 560.5,1176.6 564.2,1185.6 568,1187.1 571.8,1189.5 575.5,1189.6 579.3,1178.4 583,1178.4 586.8,1178.4 590.5,1232.5 594.3,1233.1 598.1,1253.2 601.8,1231.7 605.6,1253.2 609.3,1248.5 613.1,1248.5 616.9,1253.5 620.6,1250.2 624.4,1253.2 628.1,1250.1 631.9,1250.2 635.7,1253.3 639.4,1253.3 643.2,1231.5 646.9,1235.4 650.7,1232.8 654.4,1231.3 658.2,1231.3 662,1231.3 665.7,1231.3 669.5,1231.3 673.2,1253.5" fill="none" stroke="#3aa33a" stroke-width="1.25" stroke-linejoin="round" stroke-linecap="butt"/>
</g>
<rect x="49.7" y="1126.8" width="76.5" height="38" rx="2" ry="2" fill="#fff" fill-opacity="0.8" stroke="#d9d9d9" stroke-width="0.9"/>
<line x1="51.6" y1="1132.9" x2="67.8" y2="1132.9" stroke="#2f78b2" stroke-width="1.6"/>
<text transform="translate(73.7 1136.8) scale(0.0750 0.0885)" class="lg" text-anchor="start" style="stroke-width:2.00px">BTC_USD</text>
<line x1="51.6" y1="1144.3" x2="67.8" y2="1144.3" stroke="#f7893a" stroke-width="1.6"/>
<text transform="translate(73.7 1148.8) scale(0.0750 0.0885)" class="lg" text-anchor="start" style="stroke-width:2.00px">BTC_price_F</text>
<line x1="51.6" y1="1156.4" x2="67.8" y2="1156.4" stroke="#3aa33a" stroke-width="1.6"/>
<text transform="translate(73.7 1160.2) scale(0.0750 0.0885)" class="lg" text-anchor="start" style="stroke-width:2.00px">BTC_price_PF</text>
<rect x="45.8" y="1122.8" width="631.5" height="205.5" fill="none" stroke="#4a4a4a" stroke-width="1.0"/>
<line x1="45.8" y1="1328.3" x2="45.8" y2="1331.3" stroke="#4a4a4a" stroke-width="1"/>
<text transform="translate(45.8 1340.4) scale(0.0820 0.0877)" class="tk" text-anchor="middle" style="stroke-width:1.83px">0</text>
<line x1="121" y1="1328.3" x2="121" y2="1331.3" stroke="#4a4a4a" stroke-width="1"/>
<text transform="translate(121 1340.4) scale(0.0820 0.0877)" class="tk" text-anchor="middle" style="stroke-width:1.83px">20</text>
<line x1="196.2" y1="1328.3" x2="196.2" y2="1331.3" stroke="#4a4a4a" stroke-width="1"/>
<text transform="translate(196.2 1340.4) scale(0.0820 0.0877)" class="tk" text-anchor="middle" style="stroke-width:1.83px">40</text>
<line x1="271.3" y1="1328.3" x2="271.3" y2="1331.3" stroke="#4a4a4a" stroke-width="1"/>
<text transform="translate(271.3 1340.4) scale(0.0820 0.0877)" class="tk" text-anchor="middle" style="stroke-width:1.83px">60</text>
<line x1="346.5" y1="1328.3" x2="346.5" y2="1331.3" stroke="#4a4a4a" stroke-width="1"/>
<text transform="translate(346.5 1340.4) scale(0.0820 0.0877)" class="tk" text-anchor="middle" style="stroke-width:1.83px">80</text>
<line x1="421.7" y1="1328.3" x2="421.7" y2="1331.3" stroke="#4a4a4a" stroke-width="1"/>
<text transform="translate(421.7 1340.4) scale(0.0820 0.0877)" class="tk" text-anchor="middle" style="stroke-width:1.83px">100</text>
<line x1="496.9" y1="1328.3" x2="496.9" y2="1331.3" stroke="#4a4a4a" stroke-width="1"/>
<text transform="translate(496.9 1340.4) scale(0.0820 0.0877)" class="tk" text-anchor="middle" style="stroke-width:1.83px">120</text>
<line x1="572" y1="1328.3" x2="572" y2="1331.3" stroke="#4a4a4a" stroke-width="1"/>
<text transform="translate(572 1340.4) scale(0.0820 0.0877)" class="tk" text-anchor="middle" style="stroke-width:1.83px">140</text>
<line x1="647.2" y1="1328.3" x2="647.2" y2="1331.3" stroke="#4a4a4a" stroke-width="1"/>
<text transform="translate(647.2 1340.4) scale(0.0820 0.0877)" class="tk" text-anchor="middle" style="stroke-width:1.83px">160</text>
<text transform="translate(361 1350.9) scale(0.0820 0.0877)" class="tk" text-anchor="middle" style="stroke-width:1.83px">Hour</text>
<line x1="42.8" y1="1315.3" x2="45.8" y2="1315.3" stroke="#4a4a4a" stroke-width="1"/>
<text transform="translate(39.7 1319.1) scale(0.0820 0.0877)" class="tk" text-anchor="end" style="stroke-width:1.83px">60000</text>
<line x1="42.8" y1="1269.6" x2="45.8" y2="1269.6" stroke="#4a4a4a" stroke-width="1"/>
<text transform="translate(39.7 1273.5) scale(0.0820 0.0877)" class="tk" text-anchor="end" style="stroke-width:1.83px">61000</text>
<line x1="42.8" y1="1223.9" x2="45.8" y2="1223.9" stroke="#4a4a4a" stroke-width="1"/>
<text transform="translate(39.7 1227.8) scale(0.0820 0.0877)" class="tk" text-anchor="end" style="stroke-width:1.83px">62000</text>
<line x1="42.8" y1="1178.3" x2="45.8" y2="1178.3" stroke="#4a4a4a" stroke-width="1"/>
<text transform="translate(39.7 1182.1) scale(0.0820 0.0877)" class="tk" text-anchor="end" style="stroke-width:1.83px">63000</text>
<line x1="42.8" y1="1132.6" x2="45.8" y2="1132.6" stroke="#4a4a4a" stroke-width="1"/>
<text transform="translate(39.7 1136.4) scale(0.0820 0.0877)" class="tk" text-anchor="end" style="stroke-width:1.83px">64000</text>
<g transform="translate(11.6 1226.6) rotate(-90)"><text transform="translate(0 0) scale(0.0730 0.0891)" class="tk" text-anchor="middle" style="stroke-width:2.05px">USD</text></g>
<text transform="translate(250.6 1377.7) scale(0.1200 0.1200)" class="capl" text-anchor="start" style="stroke-width:0.50px">(e)</text>
<text transform="translate(278.8 1377.7) scale(0.1200 0.1200)" class="cap" text-anchor="start" style="stroke-width:0.50px">Week 29 October - 4 November 2021</text>
</g>
</svg>
</body></html>
